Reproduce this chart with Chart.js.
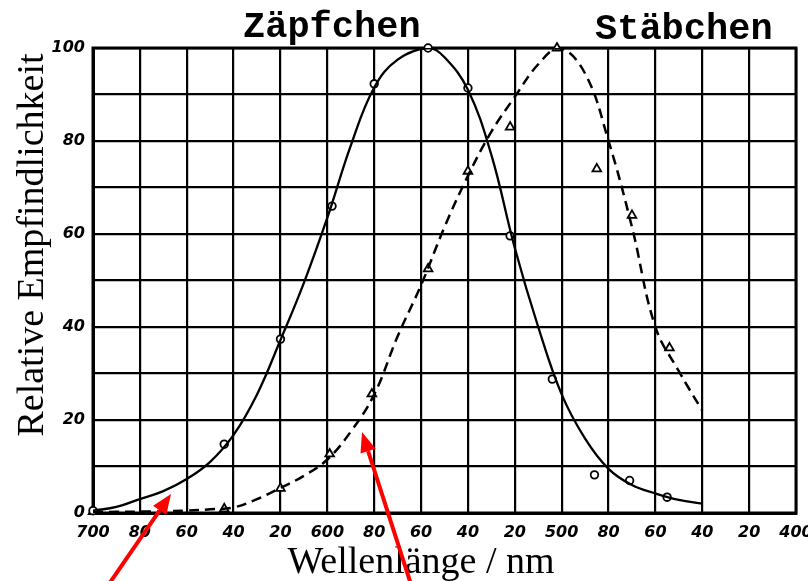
<!DOCTYPE html>
<html><head><meta charset="utf-8">
<script src="https://cdn.jsdelivr.net/npm/chart.js@4.4.1/dist/chart.umd.min.js"></script>
<style>html,body{margin:0;padding:0;background:#fff;} #wrap{width:808px;height:581px;position:relative;}</style>
</head><body><div id="wrap"><canvas id="c"></canvas></div>
<script>
// Smooth curves (wavelength nm, relative sensitivity %)
const zapfCurveWl  = [700,690,680,670,660,650,640,630,620,610,600,590,580,570,557,550,540,530,520,510,500,490,480,470,460,450,440];
const zapfCurveVal = [0.5,1.3,3,4.7,7.3,11,16.8,25.5,37.2,49.5,63.5,79,91.5,97.5,100,98,91,77,57,40,25.5,16,9.5,6,4.2,2.8,2];
const stabCurveWl  = [700,690,680,670,660,650,640,630,620,610,600,590,580,570,560,550,540,530,520,510,501,490,480,470,460,450,440];
const stabCurveVal = [0.2,0.25,0.3,0.4,0.5,0.8,1.2,3,5.4,8,11.5,17.5,25.5,38,49,61.5,72.5,82,89.5,96.5,100,94.5,80,61.5,40,30.5,22];
// Measured points
const zapfPtWl  = [700,644,620,598,580,557,540,522,504,486,471,455];
const zapfPtVal = [0.5,14.8,37.4,66,92.3,100,91.4,59.6,28.8,8.2,7,3.4];
const stabPtWl  = [700,644,620,599,581,557,540,522,502,485,470,454];
const stabPtVal = [0.3,0.9,5.3,12.7,25.6,52.5,73.5,83,100,74,64,35.5];
// Axis ticks
const xTickValues = [700,680,660,640,620,600,580,560,540,520,500,480,460,440,420,400];
const xTickLabels = ['700','80','60','40','20','600','80','60','40','20','500','80','60','40','20','400'];
const yTickValues = [0,10,20,30,40,50,60,70,80,90,100];
const yTickLabels = ['0','','20','','40','','60','','80','','100'];
// Texts
const seriesNames = ['Zäpfchen','Stäbchen'];
const xTitle = 'Wellenlänge / nm';
const yTitle = 'Relative Empfindlichkeit';
// Red arrows (data coordinates: tail -> tip)
const arrowTailWl  = [695, 563.5];
const arrowTailVal = [-16.6, -16.6];
const arrowTipWl   = [666.7, 585.2];
const arrowTipVal  = [4.1, 17.4];

const pts = (xs, ys) => xs.map((x, i) => ({x, y: ys[i]}));

function drawArrow(ctx, x0, y0, x1, y1) {
  const ang = Math.atan2(y1 - y0, x1 - x0);
  const head = 20, hw = 8;
  const bx = x1 - head * Math.cos(ang), by = y1 - head * Math.sin(ang);
  ctx.strokeStyle = '#ff0000'; ctx.lineWidth = 4; ctx.lineCap = 'butt';
  ctx.beginPath(); ctx.moveTo(x0, y0); ctx.lineTo(bx, by); ctx.stroke();
  ctx.fillStyle = '#ff0000';
  ctx.beginPath();
  ctx.moveTo(x1, y1);
  ctx.lineTo(bx + hw * Math.sin(ang), by - hw * Math.cos(ang));
  ctx.lineTo(bx - hw * Math.sin(ang), by + hw * Math.cos(ang));
  ctx.closePath(); ctx.fill();
}

const overlay = {
  id: 'overlay',
  beforeDatasetsDraw(chart) {
    const {ctx, chartArea: a} = chart;
    ctx.save();
    ctx.strokeStyle = '#000'; ctx.lineWidth = 3;
    ctx.strokeRect(a.left, a.top, a.right - a.left, a.bottom - a.top);
    ctx.restore();
  },
  afterDraw(chart) {
    const {ctx, chartArea: a, scales: {x, y}} = chart;
    ctx.save();
    ctx.fillStyle = '#000';
    ctx.textBaseline = 'alphabetic';
    ctx.textAlign = 'left';
    ctx.font = 'bold 37px "Liberation Mono"';
    ctx.fillText(seriesNames[0], a.left + 150, 37);
    ctx.fillText(seriesNames[1], a.left + 502, 39);
    ctx.font = '38px "Liberation Serif"';
    ctx.textAlign = 'center';
    ctx.fillText(xTitle, 421, 573);
    ctx.save();
    ctx.translate(43, 245);
    ctx.rotate(-Math.PI / 2);
    ctx.fillText(yTitle, 0, 0);
    ctx.restore();
    for (let i = 0; i < arrowTipWl.length; i++) {
      drawArrow(ctx,
        x.getPixelForValue(arrowTailWl[i]), y.getPixelForValue(arrowTailVal[i]),
        x.getPixelForValue(arrowTipWl[i]), y.getPixelForValue(arrowTipVal[i]));
    }
    ctx.restore();
  }
};

new Chart(document.getElementById('c'), {
  type: 'line',
  data: {
    datasets: [
      { label: seriesNames[0], data: pts(zapfCurveWl, zapfCurveVal), borderColor: '#000', borderWidth: 2.3,
        pointRadius: 0, tension: 0.4, fill: false },
      { label: seriesNames[1], data: pts(stabCurveWl, stabCurveVal), borderColor: '#000', borderWidth: 2.5,
        borderDash: [10, 6], pointRadius: 0, tension: 0.4, fill: false },
      { label: seriesNames[0] + ' Messpunkte', data: pts(zapfPtWl, zapfPtVal), showLine: false,
        pointStyle: 'circle', pointRadius: 3.8, pointBorderWidth: 1.8, pointBorderColor: '#000',
        pointBackgroundColor: '#fff', clip: 8 },
      { label: seriesNames[1] + ' Messpunkte', data: pts(stabPtWl, stabPtVal), showLine: false,
        pointStyle: 'triangle', pointRadius: 5, pointBorderWidth: 1.8, pointBorderColor: '#000',
        pointBackgroundColor: '#fff', clip: 8 }
    ]
  },
  options: {
    responsive: true, maintainAspectRatio: false, animation: false,
    layout: { padding: { top: 48, right: 12, left: 0, bottom: 0 } },
    plugins: { legend: { display: false }, tooltip: { enabled: false } },
    scales: {
      x: {
        type: 'linear', min: 400, max: 700, reverse: true,
        afterBuildTicks: s => { s.ticks = xTickValues.map(v => ({value: v})); },
        afterFit: s => { s.height = 68; s.paddingLeft = 0; s.paddingRight = 0; },
        ticks: {
          autoSkip: false, maxRotation: 0, padding: 10, color: '#000',
          font: { family: 'DejaVu Sans', size: 16, weight: 'bold', style: 'italic' },
          callback: v => { const i = xTickValues.indexOf(v); return i >= 0 ? xTickLabels[i] : ''; }
        },
        grid: { color: '#000', lineWidth: 2.2, drawTicks: false },
        border: { display: true, color: '#000', width: 3 }
      },
      y: {
        min: 0, max: 100,
        afterBuildTicks: s => { s.ticks = yTickValues.map(v => ({value: v})); },
        afterFit: s => { s.width = 93; s.paddingTop = 0; s.paddingBottom = 0; },
        ticks: {
          autoSkip: false, padding: 8, color: '#000',
          font: { family: 'DejaVu Sans', size: 16, weight: 'bold', style: 'italic' },
          callback: v => { const i = yTickValues.indexOf(v); return i >= 0 ? yTickLabels[i] : ''; }
        },
        grid: { color: '#000', lineWidth: 2.2, drawTicks: false },
        border: { display: true, color: '#000', width: 3 }
      }
    }
  },
  plugins: [overlay]
});
</script>
</body></html>
